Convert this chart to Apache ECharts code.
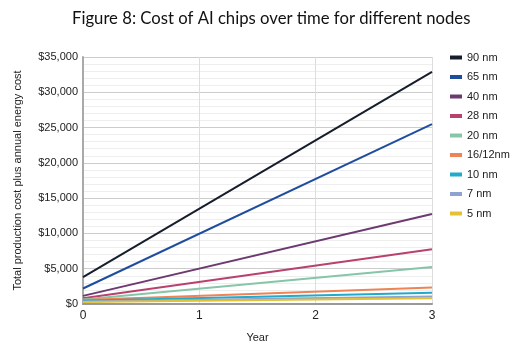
<!DOCTYPE html>
<html>
<head>
<meta charset="UTF-8">
<title>Figure 8</title>
<script src="https://cdn.jsdelivr.net/npm/echarts@6/dist/echarts.min.js"></script>
<style>
  body { margin: 0; background: #fff; }
  #chart { width: 517px; height: 351px; }
</style>
</head>
<body>
<div id="chart"></div>
<script>
const years = [0, 3];
const nodes = ['90 nm', '65 nm', '40 nm', '28 nm', '20 nm', '16/12nm', '10 nm', '7 nm', '5 nm'];
const colors = ['#161d2c', '#1f4d9e', '#6c3a6f', '#b8416d', '#86c6a8', '#ee8455', '#1fabc9', '#8ea3cf', '#e4c235'];
const startCost = [3800, 2200, 1150, 800, 650, 550, 450, 350, 300];
const endCost = [32900, 25500, 12750, 7750, 5250, 2350, 1600, 1050, 800];

const chart = echarts.init(document.getElementById('chart'));

const series = nodes.map((name, i) => ({
    name: name,
    type: 'line',
    symbol: 'none',
    lineStyle: { width: 2, color: colors[i] },
    itemStyle: { color: colors[i] },
    data: years.map((y, j) => [y, j === 0 ? startCost[i] : endCost[i]])
}));

chart.setOption({
    animation: false,
    title: {
        text: 'Figure 8: Cost of AI chips over time for different nodes',
        left: 67,
        top: 5,
        textStyle: { fontFamily: 'Lato', fontWeight: 'normal', fontSize: 16.7, color: '#111' }
    },
    legend: {
        orient: 'vertical',
        left: 445,
        top: 47,
        itemWidth: 12,
        itemHeight: 4,
        itemGap: 8.5,
        icon: 'rect',
        textStyle: { fontFamily: 'Liberation Sans', fontSize: 11, color: '#222' },
        data: nodes
    },
    grid: { left: 83, right: 85, top: 57, bottom: 47 },
    xAxis: {
        type: 'value',
        min: 0, max: 3, interval: 1,
        name: 'Year',
        nameLocation: 'middle',
        nameGap: 28,
        nameTextStyle: { fontFamily: 'Liberation Sans', fontSize: 11, color: '#222' },
        axisLine: { show: true, lineStyle: { color: '#999', width: 2 } },
        axisTick: { show: false },
        axisLabel: { fontFamily: 'Liberation Sans', fontSize: 12, color: '#222', margin: 6 },
        splitLine: { show: true, lineStyle: { color: '#ddd' } }
    },
    yAxis: {
        type: 'value',
        min: 0, max: 35000, interval: 5000,
        name: 'Total production cost plus annual energy cost',
        nameLocation: 'middle',
        nameGap: 60,
        nameTextStyle: { fontFamily: 'Liberation Sans', fontSize: 11, color: '#222' },
        axisLine: { show: true, lineStyle: { color: '#aaa', width: 2 } },
        axisTick: { show: false },
        axisLabel: {
            fontFamily: 'Liberation Sans', fontSize: 11, color: '#222', margin: 5,
            formatter: v => '$' + v.toLocaleString('en-US')
        },
        splitLine: { show: true, lineStyle: { color: '#ccc' } },
        minorTick: { show: false, splitNumber: 5 },
        minorSplitLine: { show: true, lineStyle: { color: '#eee' } }
    },
    series: series
});
</script>
</body>
</html>
